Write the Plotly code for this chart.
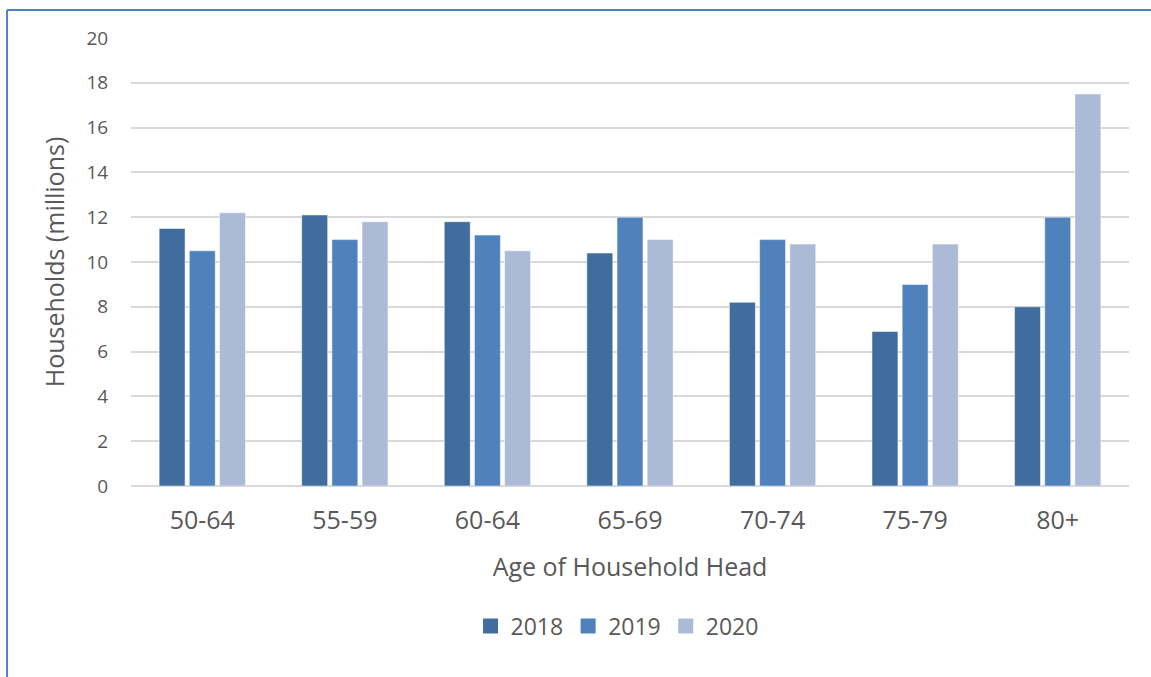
import plotly.graph_objects as go

categories = ["50-64", "55-59", "60-64", "65-69", "70-74", "75-79", "80+"]
years = ["2018", "2019", "2020"]
v2018 = [11.5, 12.1, 11.8, 10.4, 8.2, 6.9, 8.0]
v2019 = [10.5, 11.0, 11.2, 12.0, 11.0, 9.0, 12.0]
v2020 = [12.2, 11.8, 10.5, 11.0, 10.8, 10.8, 17.5]
y_ticks = [0, 2, 4, 6, 8, 10, 12, 14, 16, 18, 20]

colors = ["#416C9E", "#4F81BD", "#ABBAD7"]
series = [v2018, v2019, v2020]

fig = go.Figure()
for name, vals, col in zip(years, series, colors):
    fig.add_trace(go.Bar(
        x=categories, y=vals, name=name, legendgroup=name, showlegend=False,
        marker=dict(color=col, line=dict(color="rgba(255,255,255,0.5)", width=1)),
    ))
# legend entries with square swatches
for name, col in zip(years, colors):
    fig.add_trace(go.Scatter(
        x=[None], y=[None], name=name, legendgroup=name, mode="markers",
        marker=dict(symbol="square", size=15, color=col),
    ))

font_fam = "'Open Sans', sans-serif"
fig.update_layout(
    width=1151, height=677,
    paper_bgcolor="white", plot_bgcolor="white",
    margin=dict(l=131, r=22, t=38, b=191),
    barmode="group", bargap=0.365, bargroupgap=0.14,
    font=dict(family=font_fam, color="#595959"),
    showlegend=True,
    legend=dict(orientation="h", x=0.487, xanchor="center", y=-0.3125, yanchor="middle",
                font=dict(size=23, color="#595959"), itemwidth=30, traceorder="normal"),
    xaxis=dict(
        showgrid=False, showline=False, zeroline=False,
        ticks="outside", ticklen=12, tickcolor="rgba(0,0,0,0)",
        tickfont=dict(size=25, color="#595959"),
        title=dict(text="Age of Household Head", font=dict(size=25, color="#595959"), standoff=23),
    ),
    yaxis=dict(
        range=[0, 20], tickvals=y_ticks,
        showgrid=True, gridcolor="#D9D9D9", gridwidth=1.5,
        zeroline=True, zerolinecolor="#D9D9D9", zerolinewidth=1.5,
        showline=False,
        ticks="outside", ticklen=18, tickcolor="rgba(0,0,0,0)",
        tickfont=dict(size=19, color="#595959"),
        title=dict(text="Households (millions)", font=dict(size=25, color="#595959"), standoff=14),
    ),
    shapes=[
        dict(type="line", xref="paper", yref="paper", x0=-0.1242, x1=1.1, y0=1.0625, y1=1.0625,
             line=dict(color="#4F81BD", width=2)),
        dict(type="line", xref="paper", yref="paper", x0=-0.1242, x1=-0.1242, y0=-0.5, y1=1.0625,
             line=dict(color="#4F81BD", width=2)),
    ],
)

fig.write_html("out.html", config={"displayModeBar": False},
               post_script="document.body.style.margin='0';")
